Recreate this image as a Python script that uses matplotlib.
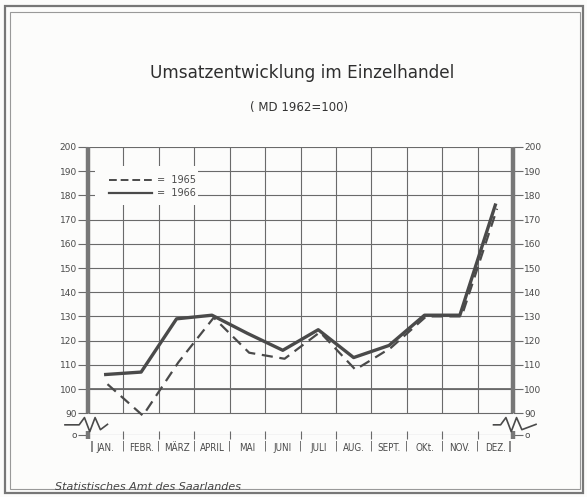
import numpy as np
import matplotlib.pyplot as plt
from matplotlib.patches import Rectangle

# Umsatzindex Einzelhandel (MD 1962 = 100)
months = ['JAN.', 'FEBR.', 'MÄRZ', 'APRIL', 'MAI', 'JUNI', 'JULI', 'AUG.',
          'SEPT.', 'OKt.', 'NOV.', 'DEZ.']
idx_1965 = [102, 89, 111, 129.5, 115, 112.5, 123.5, 108, 117, 130, 130, 174.5]
idx_1966 = [106, 107, 129, 130.5, 123, 116, 124.5, 113, 118, 130.5, 130.5, 176]
yticks = list(range(90, 201, 10))
zero_pos = 81          # position of the "0" row below the axis break

ink = '#4a4a4a'
grid = '#6a6a6a'
paper = '#fcfcfb'


def main():
    fig = plt.figure(figsize=(5.87, 4.97), dpi=100, facecolor=paper)
    ax = fig.add_axes([88 / 587, 1 - 435 / 497, 425 / 587, 288 / 497])
    ax.set_facecolor(paper)
    ax.set_xlim(0, 12)
    ax.set_ylim(zero_pos, 200)
    for s in ax.spines.values():
        s.set_visible(False)

    # page frame (double line)
    fig.patches.append(Rectangle((5 / 587, 4 / 497), 578 / 587, 487 / 497,
                                 transform=fig.transFigure, fill=False,
                                 ec='#777777', lw=1.6))
    fig.patches.append(Rectangle((10 / 587, 8 / 497), 570 / 587, 477 / 497,
                                 transform=fig.transFigure, fill=False,
                                 ec='#999999', lw=0.8))

    # grid
    ax.hlines(yticks, 0, 12, color=grid, lw=0.8, zorder=1)
    ax.hlines(100, 0, 12, color=grid, lw=1.3, zorder=1)
    ax.vlines(range(1, 12), 90, 200, color=grid, lw=0.8, zorder=1)
    ax.hlines(zero_pos, 0, 12, color=grid, lw=0.8, zorder=1)
    ax.plot(range(1, 12), [zero_pos] * 11, ls='none', marker='|', ms=6,
            color=grid, mew=0.8, clip_on=False)

    # thick axis lines with break
    for xa in (0, 12):
        ax.vlines(xa, 90, 200, color='#777777', lw=3.2, zorder=3, clip_on=False)
        ax.vlines(xa, zero_pos - 1.5, zero_pos + 1.5, color='#777777', lw=3.2,
                  zorder=3, clip_on=False)
    zx = np.array([-0.65, -0.25, -0.1, 0.05, 0.2, 0.35, 0.55])
    zy = np.array([85.2, 85.2, 88.2, 82.4, 88.2, 83.2, 85.4])
    ax.plot(zx, zy, color=ink, lw=1.2, clip_on=False, zorder=4)
    ax.plot(12 - zx[::-1], zy, color=ink, lw=1.2, clip_on=False, zorder=4)

    # data
    x = np.arange(12) + 0.5
    ax.plot(x + 0.05, idx_1965, color=ink, lw=1.6, dashes=(5, 3), zorder=5)
    ax.plot(x, idx_1966, color=ink, lw=2.4, zorder=6)

    # y ticks both sides
    ax.set_yticks([zero_pos] + yticks)
    ax.set_yticklabels(['o'] + [str(t) for t in yticks])
    ax.tick_params(axis='y', left=True, right=True, labelleft=True,
                   labelright=True, direction='out', length=7, width=0.8,
                   color=grid, labelsize=6.5, labelcolor=ink, pad=1)

    # month labels
    ax.set_xticks(x)
    ax.set_xticklabels(months, fontsize=7, color=ink, fontstretch='condensed')
    ax.tick_params(axis='x', length=0, pad=6)
    for i in range(1, 12):
        ax.text(i, zero_pos - 4.6, '|', ha='center', va='center', fontsize=7,
                color=ink)
    for xa in (0.1, 11.9):
        ax.text(xa, zero_pos - 4.6, '|', ha='center', va='center', fontsize=8,
                color=ink, fontweight='bold')

    # legend box
    ax.add_patch(Rectangle((0.2, 176), 2.9, 16, facecolor=paper, ec='none',
                           zorder=4))
    ax.plot([0.6, 1.8], [186.5, 186.5], color=ink, lw=1.4, dashes=(4, 2),
            zorder=5)
    ax.plot([0.6, 1.8], [181, 181], color=ink, lw=1.6, zorder=5)
    ax.text(1.95, 186.5, '=  1965', fontsize=7, va='center', color=ink, zorder=5)
    ax.text(1.95, 181, '=  1966', fontsize=7, va='center', color=ink, zorder=5)

    # titles and source
    fig.text(0.515, 1 - 73 / 497, 'Umsatzentwicklung im Einzelhandel',
             ha='center', va='center', fontsize=12.2, color='#2e2e2e')
    fig.text(0.51, 1 - 107 / 497, '( MD 1962=100)', ha='center', va='center',
             fontsize=8.5, color='#333333')
    fig.text(55 / 587, 1 - 487 / 497, 'Statistisches Amt des Saarlandes',
             ha='left', va='center', fontsize=8, style='italic', color='#444444')

    fig.savefig('out.png', dpi=100, facecolor=paper)


if __name__ == "__main__":
    main()
